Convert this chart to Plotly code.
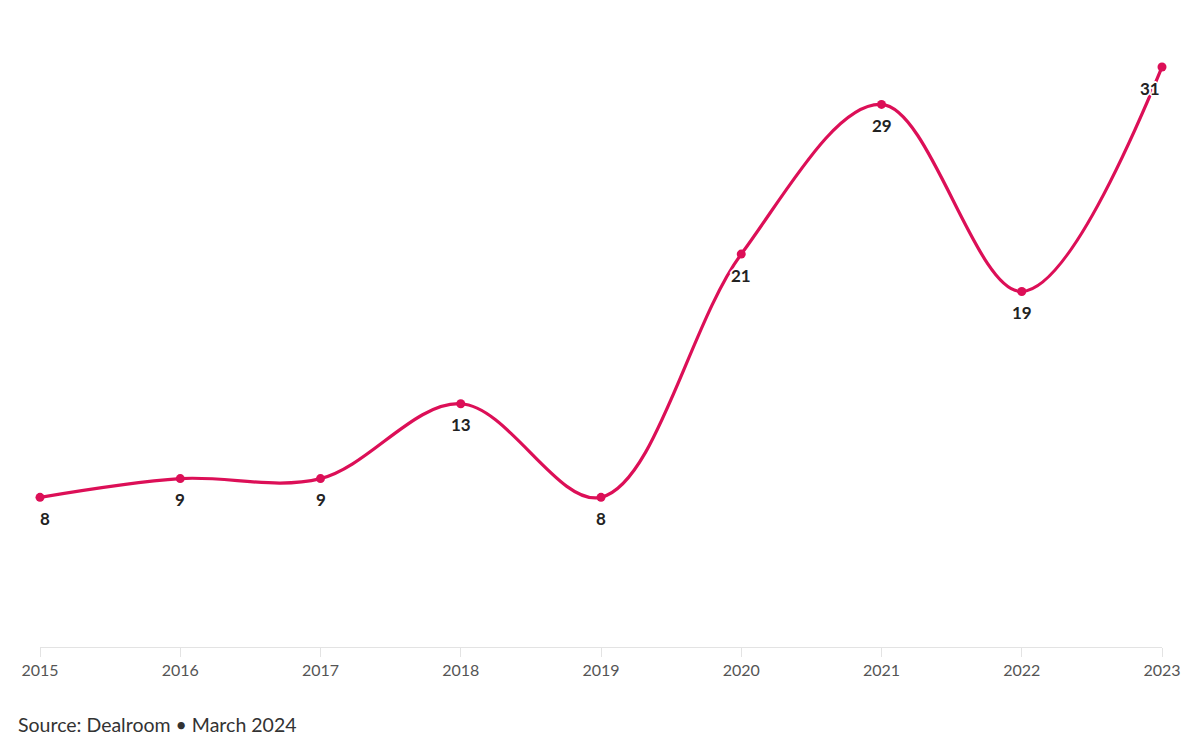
import plotly.graph_objects as go

years = [2015, 2016, 2017, 2018, 2019, 2020, 2021, 2022, 2023]
values = [8, 9, 9, 13, 8, 21, 29, 19, 31]
labels = [str(v) for v in values]
label_xshift = [5, 0, 0, 0, 0, 0, 0, 0, -12]

color = "#dc0f57"
font_family = "Source Sans Pro, Lato, Noto Sans, sans-serif"
halo = ("1px 1px 0 #fff, -1px -1px 0 #fff, 1px -1px 0 #fff, -1px 1px 0 #fff, "
        "0 2px 0 #fff, 0 -2px 0 #fff, 2px 0 0 #fff, -2px 0 0 #fff")

fig = go.Figure()
fig.add_trace(go.Scatter(
    x=years, y=values, mode="lines+markers",
    line=dict(color=color, width=3.2, shape="spline", smoothing=1.0),
    marker=dict(color=color, size=9),
    cliponaxis=False, hoverinfo="skip",
))

annotations = [
    dict(x=x, y=y, text=t, xref="x", yref="y", showarrow=False,
         xanchor="center", yanchor="middle", yshift=-21, xshift=dx,
         font=dict(family=font_family, size=17, color="#222", weight="bold", shadow=halo))
    for x, y, t, dx in zip(years, values, labels, label_xshift)
]
annotations.append(dict(
    text="Source: Dealroom • March 2024",
    xref="paper", yref="paper", x=0, y=0, xanchor="left", yanchor="middle",
    xshift=-24, yshift=-77, showarrow=False,
    font=dict(size=19.5, color="#333", family=font_family),
))

fig.update_layout(
    width=1200, height=755,
    margin=dict(l=32, r=46, t=59, b=116),
    paper_bgcolor="white", plot_bgcolor="white",
    showlegend=False,
    font=dict(family=font_family),
    xaxis=dict(
        range=[2015, 2023], tickmode="array", tickvals=years,
        ticktext=[str(y) for y in years],
        showgrid=False, zeroline=False,
        showline=True, linecolor="#e3e3e3", linewidth=1,
        ticks="outside", ticklen=9, tickcolor="#e3e3e3",
        tickfont=dict(size=16, color="#555"),
    ),
    yaxis=dict(range=[0, 31], visible=False),
    annotations=annotations,
)

fig.write_html("out.html")
